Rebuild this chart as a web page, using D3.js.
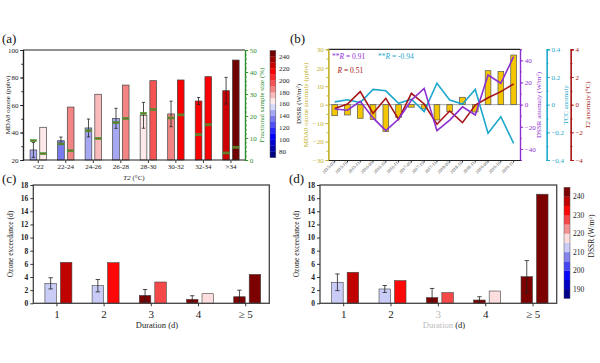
<!DOCTYPE html>
<html>
<head>
<meta charset="utf-8">
<script src="https://cdn.jsdelivr.net/npm/d3@7"></script>
<style>
body { margin: 0; background: #fff; }
svg { font-family: "Liberation Serif", "Times New Roman", serif; }
</style>
</head>
<body>
<script>
// (a) ozone by T2 bin, two DSSR groups
var tempCats = ["<22", "22-24", "24-26", "26-28", "28-30", "30-32", "32-34", ">34"];
var ozoneLow = [27.3, 34, 43.3, 50.3, 52.5, 53.5, 62.9, 70.4];
var ozoneLowSd = [5.4, 2.7, 6.5, 7.3, 9.4, 9.3, 2.6, 9.7];
var ozoneHigh = [43.8, 58.5, 67.8, 74.5, 77.7, 78.2, 80.6, 92.7];
var dssrLow = [145, 135, 145, 145, 165, 185, 215, 225];
var dssrHigh = [165, 185, 175, 185, 195, 215, 215, 245];
var sampleLow = [8.8, 7.3, 13.3, 17, 21.2, 19.1, 11.5, 3.2];
var sampleHigh = [2.9, 4.2, 9.8, 18.9, 23, 20.5, 16, 5.8];

// (b) monthly anomalies
var months = ["2015-09", "2015-10", "2015-11", "2016-09", "2016-10", "2016-11", "2017-09", "2017-10",
  "2017-11", "2018-09", "2018-10", "2018-11", "2019-09", "2019-10", "2019-11"];
var o3Anom = [-6, -5.6, -7.4, -8, -14.6, -7, -1.4, -2.3, -8.3, -3.8, 4, -4, 18.4, 18, 26.9];
var dssrAnom = [-3.9, -5, 3, -12, -23.5, -13, 4, 14.7, -23.5, -14, -2, -9.3, 26.8, 19.3, 43.3];
var tccAnom = [0.02, 0.035, 0.015, 0.11, 0.1, 0.01, 0.04, -0.05, 0.155, 0.034, 0.005, 0.11, -0.207, -0.087, -0.28];
var t2Anom = [-0.27, 0.05, 0.94, -0.63, 0.46, -1.06, 0.82, 0.05, -1.42, -0.46, -1.3, -0.03, 0.5, 0.94, 1.49];

// (c) and (d) exceedance days by episode duration
var durations = ["1", "2", "3", "4", "\u2265 5"];
var cLow = [3.04, 2.68, 1.2, 0.6, 1.0];
var cLowSd = [0.85, 0.94, 0.9, 0.55, 1.0];
var cHigh = [6.24, 6.18, 3.24, 1.46, 4.4];
var dLow = [3.2, 2.18, 0.86, 0.5, 4.05];
var dLowSd = [1.27, 0.53, 1.4, 0.5, 2.45];
var dHigh = [4.72, 3.45, 1.62, 1.87, 16.6];
var lowDssr = [212.5, 212.5, 242.5, 242.5, 242.5];
var highDssr = [237.5, 232.5, 227.5, 217.5, 242.5];

var cbTicksA = [80, 100, 120, 140, 160, 180, 200, 220, 240];
var cbTicksD = [190, 200, 210, 220, 230, 240];

// diverging colour map blue - white - red
var cmap = d3.scaleLinear()
  .domain([0, 0.2, 0.38, 0.47, 0.5, 0.56, 0.66, 0.8, 1])
  .range(["#00006a", "#0000ff", "#8888ee", "#d4d6fa", "#ffffff", "#fbd0d0", "#f07070", "#ff0000", "#5a0000"]);

function binColor(lo, hi, step) {
  var n = (hi - lo) / step;
  return function (v) {
    var i = Math.max(0, Math.min(n - 1, Math.floor((v - lo) / step)));
    return cmap((i + 0.5) / n);
  };
}
var colorA = binColor(70, 250, 10);
var colorD = binColor(185, 245, 5);

var svg = d3.select("body").append("svg")
  .attr("width", 600)
  .attr("height", 363);

var ink = "#222";

function styleAxis(g, color, size) {
  g.attr("font-family", null).attr("font-size", null);
  g.select(".domain").attr("stroke", color).attr("stroke-width", 1.2);
  g.selectAll(".tick line").attr("stroke", color).attr("stroke-width", 0.9);
  g.selectAll(".tick text").attr("fill", color).attr("font-size", size);
}

function vTitle(x, y, color, size, parts) {
  var t = svg.append("text")
    .attr("transform", "translate(" + x + "," + y + ") rotate(-90)")
    .attr("text-anchor", "middle")
    .attr("fill", color)
    .attr("font-size", size);
  parts.forEach(function (p) {
    var s = t.append("tspan").text(p.t);
    if (p.it) s.attr("font-style", "italic");
    if (p.sup) s.attr("font-size", size * 0.65).attr("baseline-shift", "super");
  });
  return t;
}

function panelLabel(x, y, s) {
  svg.append("text").attr("x", x).attr("y", y).attr("font-size", 13).attr("fill", "#111").text(s);
}

function errBar(g, x, y, v, sd, cap) {
  var top = y(v + sd), bot = y(Math.max(0, v - sd));
  g.append("line").attr("x1", x).attr("x2", x).attr("y1", top).attr("y2", bot).attr("stroke", ink).attr("stroke-width", 0.8);
  [top, bot].forEach(function (yy) {
    g.append("line").attr("x1", x - cap).attr("x2", x + cap).attr("y1", yy).attr("y2", yy).attr("stroke", ink).attr("stroke-width", 0.8);
  });
}

// ---------- panel (a) ----------
var xa = d3.scaleBand().domain(tempCats).range([24.5, 244.7]);
var ya = d3.scaleLinear().domain([20, 100]).range([160, 50]);
var ys = d3.scaleLinear().domain([0, 50]).range([160, 50]);
var green = "#2e8b2e";
var bwA = 6.7, gapA = 3;

var ga = svg.append("g");
tempCats.forEach(function (c, i) {
  var cx = xa(c) + xa.bandwidth() / 2;
  var x1 = cx - gapA / 2 - bwA, x2 = cx + gapA / 2;
  ga.append("rect").attr("x", x1).attr("y", ya(ozoneLow[i])).attr("width", bwA)
    .attr("height", ya(20) - ya(ozoneLow[i])).attr("fill", colorA(dssrLow[i])).attr("stroke", "#444").attr("stroke-width", 0.7);
  ga.append("rect").attr("x", x2).attr("y", ya(ozoneHigh[i])).attr("width", bwA)
    .attr("height", ya(20) - ya(ozoneHigh[i])).attr("fill", colorA(dssrHigh[i])).attr("stroke", "#444").attr("stroke-width", 0.7);
  errBar(ga, x1 + bwA / 2, ya, ozoneLow[i], ozoneLowSd[i], 1.6);
  [[x1, sampleLow[i]], [x2, sampleHigh[i]]].forEach(function (m) {
    ga.append("rect").attr("x", m[0] + 0.3).attr("y", ys(m[1]) - 1).attr("width", bwA - 0.6).attr("height", 2)
      .attr("fill", "#7a6c22").attr("stroke", "#3aa63a").attr("stroke-width", 0.6);
  });
});

svg.append("line").attr("x1", 23).attr("x2", 245).attr("y1", 50).attr("y2", 50).attr("stroke", ink).attr("stroke-width", 1.2);

svg.append("g").attr("transform", "translate(23,0)")
  .call(d3.axisLeft(ya).tickValues(d3.range(30, 100, 10)).tickSize(1.8).tickFormat(""))
  .call(styleAxis, ink, 7);
svg.append("g").attr("transform", "translate(23,0)")
  .call(d3.axisLeft(ya).tickValues([20, 40, 60, 80, 100]).tickSize(3).tickPadding(1.5).tickSizeOuter(0))
  .call(styleAxis, ink, 7);

svg.append("g").attr("transform", "translate(245,0)")
  .call(d3.axisRight(ys).tickValues(d3.range(0, 51, 2)).tickSize(1.8).tickFormat(""))
  .call(styleAxis, green, 7);
svg.append("g").attr("transform", "translate(245,0)")
  .call(d3.axisRight(ys).tickValues([0, 10, 20, 30, 40, 50]).tickSize(3.2).tickPadding(1.5).tickSizeOuter(0))
  .call(styleAxis, green, 7);

var axA = svg.append("g").attr("transform", "translate(0,160)")
  .call(d3.axisBottom(xa).tickSize(3).tickPadding(1.5).tickSizeOuter(0))
  .call(styleAxis, ink, 7);
axA.select(".domain").attr("d", "M23,0H245");

svg.append("text").attr("x", 134).attr("y", 180).attr("text-anchor", "middle").attr("font-size", 7).attr("fill", ink)
  .call(function (t) { t.append("tspan").attr("font-style", "italic").text("T2"); t.append("tspan").text(" (\u00b0C)"); });
vTitle(9.5, 105, ink, 7, [{ t: "MDA8 ozone (ppbv)" }]);
vTitle(264, 105, green, 7, [{ t: "Fractional sample size (%)" }]);

// colourbar (a)
var cbA = d3.scaleLinear().domain([70, 250]).range([157.5, 50.5]);
d3.range(70, 250, 10).forEach(function (v) {
  svg.append("rect").attr("x", 270).attr("y", cbA(v + 10)).attr("width", 5.8).attr("height", cbA(v) - cbA(v + 10) + 0.2)
    .attr("fill", colorA(v + 5));
});
svg.append("rect").attr("x", 270).attr("y", 50.5).attr("width", 5.8).attr("height", 107).attr("fill", "none").attr("stroke", "#555").attr("stroke-width", 0.5);
svg.append("g").selectAll("text").data(cbTicksA).enter().append("text")
  .attr("x", 279).attr("y", function (d) { return cbA(d) + 2.4; }).attr("font-size", 7).attr("fill", ink)
  .text(function (d) { return d; });
vTitle(301, 104, ink, 7, [{ t: "DSSR (W/m" }, { t: "2", sup: true }, { t: ")" }]);

panelLabel(2, 43, "(a)");

// ---------- panel (b) ----------
var yellowTxt = "#c2b02a", purple = "#8c2fd0", cyan = "#1fa8cc", dred = "#a51515";
var xb = d3.scaleBand().domain(months).range([328.3, 520]);
var yb = d3.scaleLinear().domain([-30, 30]).range([160, 49.3]);
var yDs = d3.scaleLinear().domain([-50, 50]).range([160, 49.3]);
var yTc = d3.scaleLinear().domain([-0.4, 0.4]).range([160, 49.3]);
var yT2 = d3.scaleLinear().domain([-4, 4]).range([160, 49.3]);
var bwB = 5.7;

var gb = svg.append("g");
gb.selectAll("rect").data(o3Anom).enter().append("rect")
  .attr("x", function (d, i) { return xb(months[i]) + xb.bandwidth() / 2 - bwB / 2; })
  .attr("y", function (d) { return yb(Math.max(0, d)); })
  .attr("width", bwB)
  .attr("height", function (d) { return Math.abs(yb(d) - yb(0)); })
  .attr("fill", "#f4c600").attr("stroke", "#555").attr("stroke-width", 0.7);
gb.append("line").attr("x1", 328.3).attr("x2", 520).attr("y1", yb(0)).attr("y2", yb(0)).attr("stroke", "#666").attr("stroke-width", 0.6);

function drawLine(vals, y, color) {
  gb.append("path").datum(vals)
    .attr("d", d3.line().x(function (d, i) { return xb(months[i]) + xb.bandwidth() / 2; }).y(function (d) { return y(d); }))
    .attr("fill", "none").attr("stroke", color).attr("stroke-width", 1.6).attr("stroke-linejoin", "miter");
}
drawLine(tccAnom, yTc, cyan);
drawLine(t2Anom, yT2, dred);
drawLine(dssrAnom, yDs, purple);

svg.append("line").attr("x1", 328.3).attr("x2", 520).attr("y1", 49.3).attr("y2", 49.3).attr("stroke", ink).attr("stroke-width", 1.2);

svg.append("g").attr("transform", "translate(328.3,0)")
  .call(d3.axisLeft(yb).tickValues(d3.range(-25, 30, 10)).tickSize(1.8).tickFormat(""))
  .call(styleAxis, yellowTxt, 7);
svg.append("g").attr("transform", "translate(328.3,0)")
  .call(d3.axisLeft(yb).tickValues(d3.range(-30, 31, 10)).tickSize(3).tickPadding(1.5).tickSizeOuter(0))
  .call(styleAxis, yellowTxt, 7);

svg.append("g").attr("transform", "translate(520,0)")
  .call(d3.axisRight(yDs).tickValues(d3.range(-50, 51, 10)).tickSize(1.8).tickFormat(""))
  .call(styleAxis, purple, 7);
svg.append("g").attr("transform", "translate(520,0)")
  .call(d3.axisRight(yDs).tickValues([-40, -20, 0, 20, 40]).tickSize(3.2).tickPadding(1.5).tickSizeOuter(0))
  .call(styleAxis, purple, 7);

svg.append("g").attr("transform", "translate(546.7,0)")
  .call(d3.axisRight(yTc).tickValues(d3.range(-0.4, 0.41, 0.1)).tickSize(1.8).tickFormat(""))
  .call(styleAxis, cyan, 7);
svg.append("g").attr("transform", "translate(546.7,0)")
  .call(d3.axisRight(yTc).tickValues([-0.4, -0.2, 0, 0.2, 0.4]).tickSize(3.2).tickPadding(1.5).tickSizeOuter(3.2)
    .tickFormat(function (d) { return d === 0 ? "0" : d3.format(".1f")(d).replace("-", "\u2212"); }))
  .call(styleAxis, cyan, 7);

svg.append("g").attr("transform", "translate(570.7,0)")
  .call(d3.axisRight(yT2).tickValues(d3.range(-4, 5, 1)).tickSize(1.8).tickFormat(""))
  .call(styleAxis, dred, 7);
svg.append("g").attr("transform", "translate(570.7,0)")
  .call(d3.axisRight(yT2).tickValues([-4, -2, 0, 2, 4]).tickSize(3.2).tickPadding(1.5).tickSizeOuter(3.2)
    .tickFormat(function (d) { return String(d).replace("-", "\u2212"); }))
  .call(styleAxis, dred, 7);

var axB = svg.append("g").attr("transform", "translate(0,160)")
  .call(d3.axisBottom(xb).tickSize(2.5).tickSizeOuter(0))
  .call(styleAxis, ink, 4.6);
axB.selectAll(".tick text")
  .attr("text-anchor", "end")
  .attr("transform", "translate(-1,2) rotate(-45)")
  .attr("dy", "0.35em").attr("y", 0).attr("x", 0).attr("fill", "#444");

vTitle(307.5, 105, yellowTxt, 7, [{ t: "MDA8 ozone anomaly (ppbv)" }]);
vTitle(540.5, 105, purple, 7, [{ t: "DSSR anomaly (W/m" }, { t: "2", sup: true }, { t: ")" }]);
vTitle(568, 105, cyan, 7, [{ t: "TCC anomaly" }]);
vTitle(589.5, 105, dred, 7, [{ t: "T2", it: true }, { t: " anomaly (\u00b0C)" }]);

function rText(x, y, color, pre, val) {
  svg.append("text").attr("x", x).attr("y", y).attr("font-size", 7.5).attr("fill", color)
    .call(function (t) {
      t.append("tspan").text(pre);
      t.append("tspan").attr("font-style", "italic").text("R");
      t.append("tspan").text(" = " + val);
    });
}
rText(332, 58.5, purple, "**", "0.91");
rText(378, 58.5, cyan, "**", "-0.94");
rText(337.5, 73, dred, "", "0.51");

panelLabel(290, 43, "(b)");

// ---------- panels (c) and (d) ----------
function durationPanel(x0, x1, low, lowSd, high, greyCat) {
  var x = d3.scaleBand().domain(durations).range([x0, x1]);
  var y = d3.scaleLinear().domain([0, 18]).range([303.3, 185]);
  var g = svg.append("g");
  var bw = 11.5, gap = 4;
  durations.forEach(function (c, i) {
    var cx = x(c) + x.bandwidth() / 2 + 1.5;
    var xl = cx - gap / 2 - bw, xh = cx + gap / 2;
    g.append("rect").attr("x", xl).attr("y", y(low[i])).attr("width", bw).attr("height", y(0) - y(low[i]))
      .attr("fill", colorD(lowDssr[i])).attr("stroke", "#444").attr("stroke-width", 0.6);
    g.append("rect").attr("x", xh).attr("y", y(high[i])).attr("width", bw).attr("height", y(0) - y(high[i]))
      .attr("fill", colorD(highDssr[i])).attr("stroke", "#444").attr("stroke-width", 0.6);
    errBar(g, xl + bw / 2, y, low[i], lowSd[i], 2.2);
  });
  g.append("rect").attr("x", x0).attr("y", 185).attr("width", x1 - x0).attr("height", 118.3)
    .attr("fill", "none").attr("stroke", "#444").attr("stroke-width", 1.3);
  var ay = g.append("g").attr("transform", "translate(" + x0 + ",0)")
    .call(d3.axisLeft(y).tickValues(d3.range(0, 19, 2)).tickSize(3).tickPadding(2).tickSizeOuter(0))
    .call(styleAxis, ink, 7.5);
  ay.selectAll(".tick text").attr("font-weight", "bold");
  ay.select(".domain").remove();
  var ax = g.append("g").attr("transform", "translate(0,303.3)")
    .call(d3.axisBottom(x).tickSize(3).tickPadding(4).tickSizeOuter(0))
    .call(styleAxis, ink, 11);
  ax.select(".domain").remove();
  if (greyCat) ax.selectAll(".tick text").filter(function (d) { return d === greyCat; }).attr("fill", "#bbb");
  return x;
}

durationPanel(33.3, 269.3, cLow, cLowSd, cHigh, null);
svg.append("text").attr("x", 157).attr("y", 328).attr("text-anchor", "middle").attr("font-size", 8.5).attr("fill", ink).text("Duration (d)");
vTitle(12.5, 244, ink, 7.5, [{ t: "Ozone exceedance (d)" }]);
panelLabel(2, 183, "(c)");

durationPanel(320, 556.7, dLow, dLowSd, dHigh, "3");
svg.append("text").attr("x", 444).attr("y", 328).attr("text-anchor", "middle").attr("font-size", 8.5)
  .call(function (t) {
    t.append("tspan").attr("fill", "#bbb").text("Duration ");
    t.append("tspan").attr("fill", ink).text("(d)");
  });
vTitle(298.5, 244, ink, 7.5, [{ t: "Ozone exceedance (d)" }]);
panelLabel(289, 183, "(d)");

// colourbar (d)
var cbD = d3.scaleLinear().domain([185, 245]).range([298.3, 187.3]);
d3.range(185, 245, 5).forEach(function (v) {
  svg.append("rect").attr("x", 564).attr("y", cbD(v + 5)).attr("width", 6).attr("height", cbD(v) - cbD(v + 5) + 0.2)
    .attr("fill", colorD(v + 2.5));
});
svg.append("rect").attr("x", 564).attr("y", 187.3).attr("width", 6).attr("height", 111).attr("fill", "none").attr("stroke", "#555").attr("stroke-width", 0.5);
svg.append("g").selectAll("text").data(cbTicksD).enter().append("text")
  .attr("x", 573).attr("y", function (d) { return cbD(d) + 2.5; }).attr("font-size", 7.5).attr("fill", ink)
  .text(function (d) { return d; });
vTitle(594, 236, ink, 7.5, [{ t: "DSSR (W/m" }, { t: "2", sup: true }, { t: ")" }]);
</script>
</body>
</html>
